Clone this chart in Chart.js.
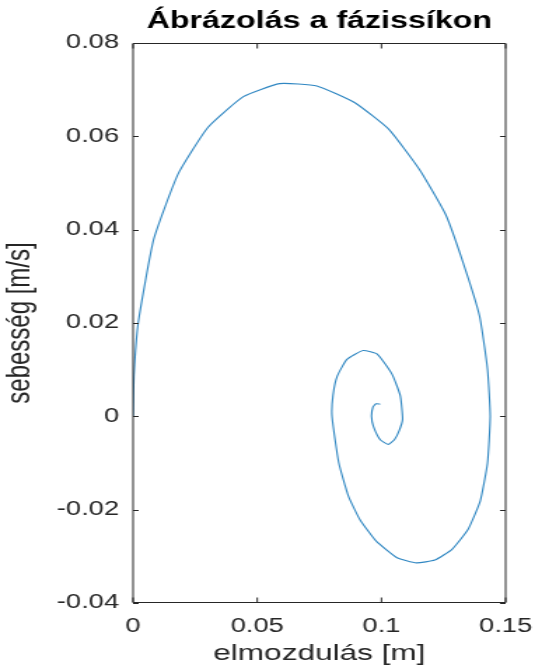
<!DOCTYPE html>
<html>
<head>
<meta charset="utf-8">
<script src="https://cdn.jsdelivr.net/npm/chart.js@4/dist/chart.umd.min.js"></script>
<style>
  html, body { margin: 0; padding: 0; background: #fff; }
</style>
</head>
<body>
<!-- a vászon vízszintesen szélesebbre van nyújtva -->
<canvas id="fazis" width="392" height="672" style="display:block;width:549px;height:672px"></canvas>
<script>
// elmozdulás [m]
const elmozdulas = [
  0, 0.0004, 0.0021, 0.0083, 0.0181, 0.0301, 0.0444, 0.0590, 0.0740, 0.0893,
  0.1030, 0.1153, 0.1258, 0.1329, 0.1395, 0.1427, 0.1438, 0.1427, 0.1398, 0.1349,
  0.1284, 0.1215, 0.1141, 0.1063, 0.0978, 0.0913, 0.0867, 0.0828, 0.0801, 0.0805,
  0.0822, 0.0861, 0.0926, 0.0984, 0.1043, 0.1076, 0.1085, 0.1072, 0.1052, 0.1027,
  0.0995, 0.0968, 0.0960, 0.0966, 0.0978, 0.0995
];
// sebesség [m/s]
const sebesseg = [
  0, 0.0090, 0.0201, 0.0379, 0.0519, 0.0619, 0.0685, 0.0713, 0.0708, 0.0672,
  0.0615, 0.0529, 0.0433, 0.0329, 0.0215, 0.0101, 0.0000, -0.0100, -0.0181, -0.0242,
  -0.0285, -0.0308, -0.0314, -0.0303, -0.0267, -0.0221, -0.0171, -0.0099, 0.0000, 0.0045,
  0.0086, 0.0122, 0.0141, 0.0133, 0.0090, 0.0044, -0.0006, -0.0030, -0.0050, -0.0060,
  -0.0050, -0.0022, 0.0000, 0.0020, 0.0027, 0.0026
];

const xTicks = [0, 0.05, 0.1, 0.15];
const xTickLabels = ['0', '0.05', '0.1', '0.15'];
const yTicks = [-0.04, -0.02, 0, 0.02, 0.04, 0.06, 0.08];
const yTickLabels = ['-0.04', '-0.02', '0', '0.02', '0.04', '0.06', '0.08'];

const tengelySzin = '#262626';
const betu = 'Liberation Sans, Arial, Helvetica, sans-serif';

// keret és befelé álló osztásjelek mind a négy oldalon
const keret = {
  id: 'keret',
  afterDatasetsDraw(chart) {
    const { ctx, chartArea: a, scales: { x, y } } = chart;
    const top = Math.round(a.top) + 0.5;
    const bottom = Math.round(a.bottom) - 0.5;
    ctx.save();
    ctx.strokeStyle = tengelySzin;
    ctx.lineWidth = 1;
    ctx.beginPath();
    ctx.rect(a.left, top, a.right - a.left, bottom - top);
    xTicks.forEach(v => {
      const px = x.getPixelForValue(v);
      ctx.moveTo(px, bottom); ctx.lineTo(px, bottom - 5);
      ctx.moveTo(px, top); ctx.lineTo(px, top + 5);
    });
    yTicks.forEach(v => {
      const py = Math.round(y.getPixelForValue(v)) + 0.5;
      ctx.moveTo(a.left, py); ctx.lineTo(a.left + 4, py);
      ctx.moveTo(a.right, py); ctx.lineTo(a.right - 4, py);
    });
    ctx.stroke();
    ctx.restore();
  }
};

new Chart(document.getElementById('fazis'), {
  type: 'scatter',
  data: {
    datasets: [{
      data: elmozdulas.map((v, i) => ({ x: v, y: sebesseg[i] })),
      showLine: true,
      borderColor: '#3087c2',
      borderWidth: 1.1,
      pointRadius: 0,
      tension: 0.15,
      fill: false
    }]
  },
  options: {
    responsive: false,
    devicePixelRatio: 1,
    animation: false,
    layout: { padding: { left: 0, right: 23, top: 0, bottom: 0 } },
    plugins: {
      legend: { display: false },
      tooltip: { enabled: false },
      title: {
        display: true,
        fullSize: false,
        text: 'Ábrázolás a fázissíkon',
        color: '#000',
        font: { family: betu, size: 23, weight: 'bold' },
        padding: { top: 8, bottom: 7.4 }
      }
    },
    scales: {
      x: {
        type: 'linear',
        min: 0,
        max: 0.15,
        afterBuildTicks: s => { s.ticks = xTicks.map(v => ({ value: v })); },
        afterFit: s => { s.height = 69; },
        grid: { display: false, drawTicks: false },
        border: { display: false },
        ticks: {
          autoSkip: false,
          maxRotation: 0,
          padding: 12,
          color: tengelySzin,
          font: { family: betu, size: 19.5 },
          callback: (v, i) => xTickLabels[i]
        },
        title: {
          display: true,
          text: 'elmozdulás [m]',
          color: tengelySzin,
          font: { family: betu, size: 22.5 },
          padding: { top: 0, bottom: 5 }
        }
      },
      y: {
        type: 'linear',
        min: -0.04,
        max: 0.08,
        afterBuildTicks: s => { s.ticks = yTicks.map(v => ({ value: v })); },
        afterFit: s => { s.width = 95; },
        grid: { display: false, drawTicks: false },
        border: { display: false },
        ticks: {
          autoSkip: false,
          padding: 10,
          color: tengelySzin,
          font: { family: betu, size: 19.5 },
          callback: (v, i) => yTickLabels[i]
        },
        title: {
          display: true,
          text: 'sebesség [m/s]',
          color: tengelySzin,
          font: { family: betu, size: 24 },
          padding: { top: 0, bottom: 0 }
        }
      }
    }
  },
  plugins: [keret]
});
</script>
</body>
</html>
